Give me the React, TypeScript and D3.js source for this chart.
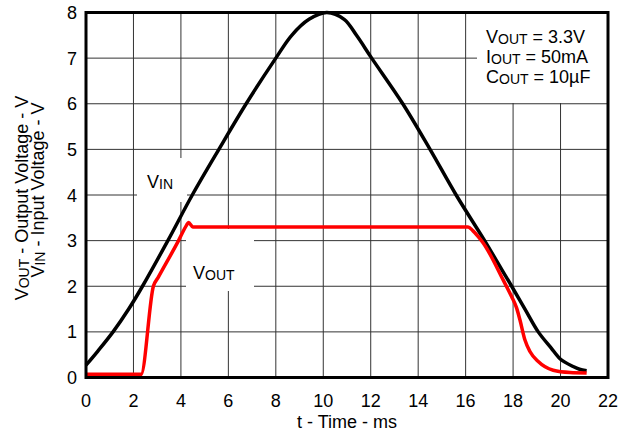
import React from 'react';
import * as d3 from 'd3';

// V_IN trace (ms, V)
const vinTime = [0, 0.5, 1.14, 1.8, 2.38, 3.45, 4.48, 5.6, 6.75, 8.0, 8.67, 9.4, 10.15, 10.88, 11.4, 12.04, 13.35, 14.5, 15.6, 16.8, 17.37, 17.94, 18.5, 19.06, 19.6, 20.0, 20.53, 20.8, 21.1];
const vinValues = [0.27, 0.58, 1.0, 1.5, 2.0, 3.0, 4.0, 5.0, 6.0, 7.0, 7.5, 7.85, 8.0, 7.85, 7.5, 7.0, 6.0, 5.0, 4.0, 3.0, 2.5, 2.0, 1.5, 1.0, 0.65, 0.4, 0.24, 0.18, 0.15];

// V_OUT trace (ms, V)
const voutTime = [0, 2.32, 2.84, 3.05, 3.9, 4.24, 4.32, 4.5, 16.1, 16.3, 16.53, 16.74, 17.58, 17.94, 18.15, 18.29, 18.5, 18.71, 19.06, 19.69, 20.4, 21.1];
const voutValues = [0.07, 0.07, 2.0, 2.2, 3.0, 3.34, 3.4, 3.3, 3.3, 3.22, 3.09, 2.95, 2.14, 1.77, 1.52, 1.26, 0.82, 0.57, 0.35, 0.16, 0.11, 0.1];

const xTicks = [0, 2, 4, 6, 8, 10, 12, 14, 16, 18, 20, 22];
const yTicks = [0, 1, 2, 3, 4, 5, 6, 7, 8];

const legendLines = [
  { main: 'V', sub: 'OUT', rest: ' = 3.3V' },
  { main: 'I', sub: 'OUT', rest: ' = 50mA' },
  { main: 'C', sub: 'OUT', rest: ' = 10\u00B5F' },
];

const W = 630;
const H = 434;
const margin = { top: 12.5, right: 22, bottom: 56.5, left: 86 };
const font = 'Liberation Sans, Arial, sans-serif';

const App: React.FC = () => {
  const x = d3.scaleLinear().domain([0, 22]).range([margin.left, W - margin.right]);
  const y = d3.scaleLinear().domain([0, 8]).range([H - margin.bottom, margin.top]);

  const vinLine = d3
    .line<[number, number]>()
    .x(d => x(d[0]))
    .y(d => y(d[1]))
    .curve(d3.curveCatmullRom.alpha(0.5));

  const voutLine = d3
    .line<[number, number]>()
    .x(d => x(d[0]))
    .y(d => y(d[1]))
    .curve(d3.curveMonotoneX);

  const vin = vinLine(vinTime.map((t, i) => [t, vinValues[i]]) as [number, number][]) || '';
  const vout = voutLine(voutTime.map((t, i) => [t, voutValues[i]]) as [number, number][]) || '';

  const [x0, x1] = x.range();
  const [y0, y1] = y.range();

  return (
    <svg width={W} height={H} style={{ position: 'absolute', left: 0, top: 0, background: '#fff' }} fontFamily={font}>
      {/* grid */}
      <g stroke="#333" strokeWidth={1}>
        {xTicks.map(t => (
          <line key={'gx' + t} x1={x(t)} x2={x(t)} y1={y1} y2={y0} />
        ))}
        {yTicks.map(t => (
          <line key={'gy' + t} x1={x0} x2={x1} y1={y(t)} y2={y(t)} />
        ))}
      </g>

      {/* label backgrounds cutting the grid */}
      <rect x={137} y={158} width={50} height={44} fill="#fff" />
      <rect x={186} y={229} width={68} height={62} fill="#fff" />
      <rect x={477} y={14} width={130} height={89} fill="#fff" />

      {/* traces */}
      <path d={vin} fill="none" stroke="#000" strokeWidth={3.5} strokeLinejoin="round" />
      <path d={vout} fill="none" stroke="#ff0000" strokeWidth={3.5} strokeLinejoin="round" />

      {/* frame */}
      <rect x={x0} y={y1} width={x1 - x0} height={y0 - y1} fill="none" stroke="#000" strokeWidth={3} />

      {/* tick labels */}
      <g fontSize={18} fill="#000">
        {yTicks.map(t => (
          <text key={'ty' + t} x={77} y={y(t) + 6.5} textAnchor="end">{t}</text>
        ))}
        {xTicks.map(t => (
          <text key={'tx' + t} x={x(t)} y={406.5} textAnchor="middle">{t}</text>
        ))}
      </g>

      {/* axis titles */}
      <text x={(x0 + x1) / 2} y={428} textAnchor="middle" fontSize={18}>t - Time - ms</text>
      <text transform="translate(28,198) rotate(-90)" textAnchor="middle" fontSize={18}>
        V<tspan fontSize={14} dy={1}>OUT</tspan><tspan dy={-1}> - Output Voltage - V</tspan>
      </text>
      <text transform="translate(44,190) rotate(-90)" textAnchor="middle" fontSize={18}>
        V<tspan fontSize={14} dy={1}>IN</tspan><tspan dy={-1}> - Input Voltage - V</tspan>
      </text>

      {/* curve labels */}
      <text x={147} y={188} fontSize={18}>
        V<tspan fontSize={14} dy={1}>IN</tspan>
      </text>
      <text x={193} y={279} fontSize={18}>
        V<tspan fontSize={14} dy={1}>OUT</tspan>
      </text>

      {/* conditions */}
      {legendLines.map((l, i) => (
        <text key={'lg' + i} x={486} y={42.7 + i * 20} fontSize={18}>
          {l.main}
          <tspan fontSize={14} dy={1}>{l.sub}</tspan>
          <tspan dy={-1}>{l.rest}</tspan>
        </text>
      ))}
    </svg>
  );
};

export default App;
